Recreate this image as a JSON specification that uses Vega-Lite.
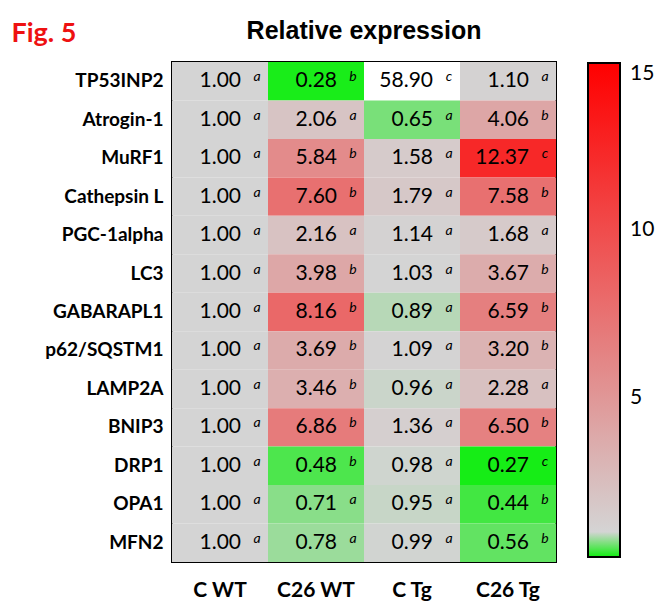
{
  "$schema": "https://vega.github.io/schema/vega-lite/v6.json",
  "width": 384,
  "height": 500,
  "autosize": {"type": "none"},
  "padding": {"left": 172, "top": 62, "right": 100, "bottom": 39},
  "background": "white",
  "title": {
    "text": "Relative expression",
    "font": "Liberation Sans",
    "fontSize": 25,
    "fontWeight": "bold",
    "color": "black",
    "anchor": "middle",
    "frame": "group",
    "offset": 21,
    "dy": 46
  },
  "config": {
    "view": {"stroke": "black", "strokeWidth": 2}
  },
  "data": {
    "values": [
      {"gene": "TP53INP2", "group": "C WT", "value": 1.00, "letter": "a"},
      {"gene": "TP53INP2", "group": "C26 WT", "value": 0.28, "letter": "b"},
      {"gene": "TP53INP2", "group": "C Tg", "value": 58.90, "letter": "c"},
      {"gene": "TP53INP2", "group": "C26 Tg", "value": 1.10, "letter": "a"},
      {"gene": "Atrogin-1", "group": "C WT", "value": 1.00, "letter": "a"},
      {"gene": "Atrogin-1", "group": "C26 WT", "value": 2.06, "letter": "a"},
      {"gene": "Atrogin-1", "group": "C Tg", "value": 0.65, "letter": "a"},
      {"gene": "Atrogin-1", "group": "C26 Tg", "value": 4.06, "letter": "b"},
      {"gene": "MuRF1", "group": "C WT", "value": 1.00, "letter": "a"},
      {"gene": "MuRF1", "group": "C26 WT", "value": 5.84, "letter": "b"},
      {"gene": "MuRF1", "group": "C Tg", "value": 1.58, "letter": "a"},
      {"gene": "MuRF1", "group": "C26 Tg", "value": 12.37, "letter": "c"},
      {"gene": "Cathepsin L", "group": "C WT", "value": 1.00, "letter": "a"},
      {"gene": "Cathepsin L", "group": "C26 WT", "value": 7.60, "letter": "b"},
      {"gene": "Cathepsin L", "group": "C Tg", "value": 1.79, "letter": "a"},
      {"gene": "Cathepsin L", "group": "C26 Tg", "value": 7.58, "letter": "b"},
      {"gene": "PGC-1alpha", "group": "C WT", "value": 1.00, "letter": "a"},
      {"gene": "PGC-1alpha", "group": "C26 WT", "value": 2.16, "letter": "a"},
      {"gene": "PGC-1alpha", "group": "C Tg", "value": 1.14, "letter": "a"},
      {"gene": "PGC-1alpha", "group": "C26 Tg", "value": 1.68, "letter": "a"},
      {"gene": "LC3", "group": "C WT", "value": 1.00, "letter": "a"},
      {"gene": "LC3", "group": "C26 WT", "value": 3.98, "letter": "b"},
      {"gene": "LC3", "group": "C Tg", "value": 1.03, "letter": "a"},
      {"gene": "LC3", "group": "C26 Tg", "value": 3.67, "letter": "b"},
      {"gene": "GABARAPL1", "group": "C WT", "value": 1.00, "letter": "a"},
      {"gene": "GABARAPL1", "group": "C26 WT", "value": 8.16, "letter": "b"},
      {"gene": "GABARAPL1", "group": "C Tg", "value": 0.89, "letter": "a"},
      {"gene": "GABARAPL1", "group": "C26 Tg", "value": 6.59, "letter": "b"},
      {"gene": "p62/SQSTM1", "group": "C WT", "value": 1.00, "letter": "a"},
      {"gene": "p62/SQSTM1", "group": "C26 WT", "value": 3.69, "letter": "b"},
      {"gene": "p62/SQSTM1", "group": "C Tg", "value": 1.09, "letter": "a"},
      {"gene": "p62/SQSTM1", "group": "C26 Tg", "value": 3.20, "letter": "b"},
      {"gene": "LAMP2A", "group": "C WT", "value": 1.00, "letter": "a"},
      {"gene": "LAMP2A", "group": "C26 WT", "value": 3.46, "letter": "b"},
      {"gene": "LAMP2A", "group": "C Tg", "value": 0.96, "letter": "a"},
      {"gene": "LAMP2A", "group": "C26 Tg", "value": 2.28, "letter": "a"},
      {"gene": "BNIP3", "group": "C WT", "value": 1.00, "letter": "a"},
      {"gene": "BNIP3", "group": "C26 WT", "value": 6.86, "letter": "b"},
      {"gene": "BNIP3", "group": "C Tg", "value": 1.36, "letter": "a"},
      {"gene": "BNIP3", "group": "C26 Tg", "value": 6.50, "letter": "b"},
      {"gene": "DRP1", "group": "C WT", "value": 1.00, "letter": "a"},
      {"gene": "DRP1", "group": "C26 WT", "value": 0.48, "letter": "b"},
      {"gene": "DRP1", "group": "C Tg", "value": 0.98, "letter": "a"},
      {"gene": "DRP1", "group": "C26 Tg", "value": 0.27, "letter": "c"},
      {"gene": "OPA1", "group": "C WT", "value": 1.00, "letter": "a"},
      {"gene": "OPA1", "group": "C26 WT", "value": 0.71, "letter": "a"},
      {"gene": "OPA1", "group": "C Tg", "value": 0.95, "letter": "a"},
      {"gene": "OPA1", "group": "C26 Tg", "value": 0.44, "letter": "b"},
      {"gene": "MFN2", "group": "C WT", "value": 1.00, "letter": "a"},
      {"gene": "MFN2", "group": "C26 WT", "value": 0.78, "letter": "a"},
      {"gene": "MFN2", "group": "C Tg", "value": 0.99, "letter": "a"},
      {"gene": "MFN2", "group": "C26 Tg", "value": 0.56, "letter": "b"}
    ]
  },
  "encoding": {
    "x": {
      "field": "group",
      "type": "nominal",
      "sort": ["C WT", "C26 WT", "C Tg", "C26 Tg"],
      "scale": {"paddingInner": 0, "paddingOuter": 0},
      "axis": {
        "orient": "bottom",
        "title": null,
        "labelAngle": 0,
        "labelFont": "Lato",
        "labelFontSize": 21,
        "labelFontWeight": "bold",
        "labelColor": "black",
        "labelPadding": 17,
        "ticks": false,
        "domain": false
      }
    },
    "y": {
      "field": "gene",
      "type": "nominal",
      "sort": null,
      "scale": {"paddingInner": 0, "paddingOuter": 0},
      "axis": {
        "title": "Fig. 5",
        "titleAngle": 0,
        "titleX": -161,
        "titleY": -21,
        "titleAlign": "left",
        "titleBaseline": "alphabetic",
        "titleColor": "#ee1111",
        "titleFont": "Lato",
        "titleFontSize": 27,
        "titleFontWeight": "bold",
        "labelFont": "Lato",
        "labelFontSize": 19,
        "labelFontWeight": "bold",
        "labelColor": "black",
        "labelPadding": 9,
        "ticks": false,
        "domain": false
      }
    }
  },
  "layer": [
    {
      "mark": {"type": "rect"},
      "encoding": {
        "color": {
          "condition": {"test": "datum.value > 15", "value": "white"},
          "field": "value",
          "type": "quantitative",
          "scale": {
            "type": "linear",
            "domain": [0.25, 1, 15],
            "range": ["#11ee11", "#d4d4d4", "#ff0000"],
            "interpolate": "rgb",
            "clamp": true
          },
          "legend": {
            "title": null,
            "orient": "none",
            "legendX": 416,
            "legendY": 1,
            "direction": "vertical",
            "gradientLength": 494,
            "gradientThickness": 32,
            "gradientStrokeColor": "black",
            "gradientStrokeWidth": 2,
            "values": [5, 10, 15],
            "labelFont": "Lato",
            "labelFontSize": 21,
            "labelColor": "black",
            "labelOffset": 10
          }
        }
      }
    },
    {
      "mark": {"type": "text", "align": "right", "baseline": "middle", "dx": 21, "font": "Lato", "fontSize": 21, "color": "black"},
      "encoding": {
        "text": {"field": "value", "type": "quantitative", "format": ".2f"}
      }
    },
    {
      "mark": {"type": "text", "align": "center", "baseline": "middle", "dx": 37, "dy": -4, "font": "Lato", "fontSize": 14, "fontStyle": "italic", "color": "black"},
      "encoding": {
        "text": {"field": "letter", "type": "nominal"}
      }
    }
  ]
}
